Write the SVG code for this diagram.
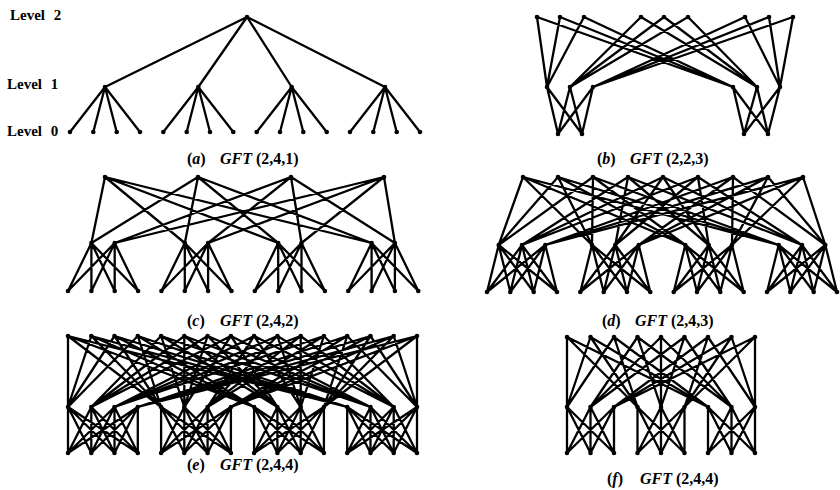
<svg xmlns="http://www.w3.org/2000/svg" width="840" height="490" viewBox="0 0 840 490">
<style>
.e{fill:none;stroke:#000;stroke-width:2.3;stroke-linecap:round;stroke-linejoin:round}
.n circle{fill:#000}
.lv{font-family:"Liberation Serif","Times New Roman",serif;font-weight:bold;font-size:15px;word-spacing:5px;fill:#000}
.cap{font-family:"Liberation Serif","Times New Roman",serif;font-weight:bold;font-size:16px;fill:#000}
.i{font-style:italic}
</style>
<rect width="840" height="490" fill="#fff"/>
<g id="connectors" class="e">
<path id="a-edges" d="M105 87 L247 17 L198.3 87 M291.7 87 L247 17 L385 87
M70 132 L105 87 L93.3 132 M116.7 132 L105 87 L140 132
M163.3 132 L198.3 87 L186.7 132 M210 132 L198.3 87 L233.3 132
M256.7 132 L291.7 87 L280 132 M303.3 132 L291.7 87 L326.7 132
M350 132 L385 87 L373.3 132 M396.7 132 L385 87 L420 132"/>
<path id="b-edges" d="M547 87 L558 134 L570 87 M593 87 L558 134
M547 87 L582 134 L570 87 M593 87 L582 134
M733 87 L744 134 L757 87 M780 87 L744 134
M733 87 L768 134 L757 87 M780 87 L768 134
M537 17 L547 87 L560 17 M584 17 L547 87
M537 17 L733 87 L560 17 M584 17 L733 87
M641 17 L570 87 L664 17 M688 17 L570 87
M641 17 L757 87 L664 17 M688 17 L757 87
M745 17 L593 87 L769 17 M793 17 L593 87
M745 17 L780 87 L769 17 M793 17 L780 87"/>
<path id="c-edges" d="M68 291 L91.4 243 L91.4 291 M114.7 291 L91.4 243 L138.1 291
M68 291 L114.7 243 L91.4 291 M114.7 291 L114.7 243 L138.1 291
M161.4 291 L184.8 243 L184.8 291 M208.1 291 L184.8 243 L231.5 291
M161.4 291 L208.1 243 L184.8 291 M208.1 291 L208.1 243 L231.5 291
M254.8 291 L278.2 243 L278.2 291 M301.5 291 L278.2 243 L324.9 291
M254.8 291 L301.5 243 L278.2 291 M301.5 291 L301.5 243 L324.9 291
M348.2 291 L371.6 243 L371.6 291 M394.9 291 L371.6 243 L418.3 291
M348.2 291 L394.9 243 L371.6 291 M394.9 291 L394.9 243 L418.3 291
M105 177 L91.4 243 L198 177
M105 177 L184.8 243 L198 177
M105 177 L278.2 243 L198 177
M105 177 L371.6 243 L198 177
M291 177 L114.7 243 L384 177
M291 177 L208.1 243 L384 177
M291 177 L301.5 243 L384 177
M291 177 L394.9 243 L384 177"/>
<path id="d-edges" d="M487 292 L498.7 245 L510.3 292 M533.7 292 L498.7 245 L557 292
M487 292 L522 245 L510.3 292 M533.7 292 L522 245 L557 292
M487 292 L545.3 245 L510.3 292 M533.7 292 L545.3 245 L557 292
M580.3 292 L592 245 L603.7 292 M627 292 L592 245 L650.3 292
M580.3 292 L615.3 245 L603.7 292 M627 292 L615.3 245 L650.3 292
M580.3 292 L638.7 245 L603.7 292 M627 292 L638.7 245 L650.3 292
M673.7 292 L685.3 245 L697 292 M720.3 292 L685.3 245 L743.7 292
M673.7 292 L708.7 245 L697 292 M720.3 292 L708.7 245 L743.7 292
M673.7 292 L732 245 L697 292 M720.3 292 L732 245 L743.7 292
M767 292 L778.7 245 L790.3 292 M813.7 292 L778.7 245 L837 292
M767 292 L802 245 L790.3 292 M813.7 292 L802 245 L837 292
M767 292 L825.3 245 L790.3 292 M813.7 292 L825.3 245 L837 292
M523 177 L498.7 245 L558 177 M593 177 L498.7 245
M523 177 L592 245 L558 177 M593 177 L592 245
M523 177 L685.3 245 L558 177 M593 177 L685.3 245
M523 177 L778.7 245 L558 177 M593 177 L778.7 245
M628 177 L522 245 L663 177 M698 177 L522 245
M628 177 L615.3 245 L663 177 M698 177 L615.3 245
M628 177 L708.7 245 L663 177 M698 177 L708.7 245
M628 177 L802 245 L663 177 M698 177 L802 245
M733 177 L545.3 245 L768 177 M803 177 L545.3 245
M733 177 L638.7 245 L768 177 M803 177 L638.7 245
M733 177 L732 245 L768 177 M803 177 L732 245
M733 177 L825.3 245 L768 177 M803 177 L825.3 245"/>
<path id="e-edges" d="M68 453 L68 407 L91.3 453 M114.5 453 L68 407 L137.8 453
M68 453 L91.3 407 L91.3 453 M114.5 453 L91.3 407 L137.8 453
M68 453 L114.5 407 L91.3 453 M114.5 453 L114.5 407 L137.8 453
M68 453 L137.8 407 L91.3 453 M114.5 453 L137.8 407 L137.8 453
M161.1 453 L161.1 407 L184.3 453 M207.6 453 L161.1 407 L230.9 453
M161.1 453 L184.3 407 L184.3 453 M207.6 453 L184.3 407 L230.9 453
M161.1 453 L207.6 407 L184.3 453 M207.6 453 L207.6 407 L230.9 453
M161.1 453 L230.9 407 L184.3 453 M207.6 453 L230.9 407 L230.9 453
M254.1 453 L254.1 407 L277.4 453 M300.7 453 L254.1 407 L323.9 453
M254.1 453 L277.4 407 L277.4 453 M300.7 453 L277.4 407 L323.9 453
M254.1 453 L300.7 407 L277.4 453 M300.7 453 L300.7 407 L323.9 453
M254.1 453 L323.9 407 L277.4 453 M300.7 453 L323.9 407 L323.9 453
M347.2 453 L347.2 407 L370.5 453 M393.7 453 L347.2 407 L417 453
M347.2 453 L370.5 407 L370.5 453 M393.7 453 L370.5 407 L417 453
M347.2 453 L393.7 407 L370.5 453 M393.7 453 L393.7 407 L417 453
M347.2 453 L417 407 L370.5 453 M393.7 453 L417 407 L417 453
M68 336 L68 407 L91.3 336 M114.5 336 L68 407 L137.8 336
M68 336 L161.1 407 L91.3 336 M114.5 336 L161.1 407 L137.8 336
M68 336 L254.1 407 L91.3 336 M114.5 336 L254.1 407 L137.8 336
M68 336 L347.2 407 L91.3 336 M114.5 336 L347.2 407 L137.8 336
M161.1 336 L91.3 407 L184.3 336 M207.6 336 L91.3 407 L230.9 336
M161.1 336 L184.3 407 L184.3 336 M207.6 336 L184.3 407 L230.9 336
M161.1 336 L277.4 407 L184.3 336 M207.6 336 L277.4 407 L230.9 336
M161.1 336 L370.5 407 L184.3 336 M207.6 336 L370.5 407 L230.9 336
M254.1 336 L114.5 407 L277.4 336 M300.7 336 L114.5 407 L323.9 336
M254.1 336 L207.6 407 L277.4 336 M300.7 336 L207.6 407 L323.9 336
M254.1 336 L300.7 407 L277.4 336 M300.7 336 L300.7 407 L323.9 336
M254.1 336 L393.7 407 L277.4 336 M300.7 336 L393.7 407 L323.9 336
M347.2 336 L137.8 407 L370.5 336 M393.7 336 L137.8 407 L417 336
M347.2 336 L230.9 407 L370.5 336 M393.7 336 L230.9 407 L417 336
M347.2 336 L323.9 407 L370.5 336 M393.7 336 L323.9 407 L417 336
M347.2 336 L417 407 L370.5 336 M393.7 336 L417 407 L417 336"/>
<path id="f-edges" d="M567 453 L567 407 L590.5 453 M614 453 L567 407
M567 453 L590.5 407 L590.5 453 M614 453 L590.5 407
M567 453 L614 407 L590.5 453 M614 453 L614 407
M637.5 453 L637.5 407 L661 453 M684.5 453 L637.5 407
M637.5 453 L661 407 L661 453 M684.5 453 L661 407
M637.5 453 L684.5 407 L661 453 M684.5 453 L684.5 407
M708 453 L708 407 L731.5 453 M755 453 L708 407
M708 453 L731.5 407 L731.5 453 M755 453 L731.5 407
M708 453 L755 407 L731.5 453 M755 453 L755 407
M567 337 L567 407 L590.5 337 M614 337 L567 407
M567 337 L637.5 407 L590.5 337 M614 337 L637.5 407
M567 337 L708 407 L590.5 337 M614 337 L708 407
M637.5 337 L590.5 407 L661 337 M684.5 337 L590.5 407
M637.5 337 L661 407 L661 337 M684.5 337 L661 407
M637.5 337 L731.5 407 L661 337 M684.5 337 L731.5 407
M708 337 L614 407 L731.5 337 M755 337 L614 407
M708 337 L684.5 407 L731.5 337 M755 337 L684.5 407
M708 337 L755 407 L731.5 337 M755 337 L755 407"/>
</g>
<g id="nodes" class="n">
<g id="a2-0"><circle cx="247" cy="17" r="2.3"/></g>
<g id="a1-0"><circle cx="105" cy="87" r="2.3"/></g>
<g id="a1-1"><circle cx="198.3" cy="87" r="2.3"/></g>
<g id="a1-2"><circle cx="291.7" cy="87" r="2.3"/></g>
<g id="a1-3"><circle cx="385" cy="87" r="2.3"/></g>
<g id="a0-0"><circle cx="70" cy="132" r="2.3"/></g>
<g id="a0-1"><circle cx="93.3" cy="132" r="2.3"/></g>
<g id="a0-2"><circle cx="116.7" cy="132" r="2.3"/></g>
<g id="a0-3"><circle cx="140" cy="132" r="2.3"/></g>
<g id="a0-4"><circle cx="163.3" cy="132" r="2.3"/></g>
<g id="a0-5"><circle cx="186.7" cy="132" r="2.3"/></g>
<g id="a0-6"><circle cx="210" cy="132" r="2.3"/></g>
<g id="a0-7"><circle cx="233.3" cy="132" r="2.3"/></g>
<g id="a0-8"><circle cx="256.7" cy="132" r="2.3"/></g>
<g id="a0-9"><circle cx="280" cy="132" r="2.3"/></g>
<g id="a0-10"><circle cx="303.3" cy="132" r="2.3"/></g>
<g id="a0-11"><circle cx="326.7" cy="132" r="2.3"/></g>
<g id="a0-12"><circle cx="350" cy="132" r="2.3"/></g>
<g id="a0-13"><circle cx="373.3" cy="132" r="2.3"/></g>
<g id="a0-14"><circle cx="396.7" cy="132" r="2.3"/></g>
<g id="a0-15"><circle cx="420" cy="132" r="2.3"/></g>

<g id="b2-0"><circle cx="537" cy="17" r="2.3"/></g>
<g id="b2-1"><circle cx="560" cy="17" r="2.3"/></g>
<g id="b2-2"><circle cx="584" cy="17" r="2.3"/></g>
<g id="b2-3"><circle cx="641" cy="17" r="2.3"/></g>
<g id="b2-4"><circle cx="664" cy="17" r="2.3"/></g>
<g id="b2-5"><circle cx="688" cy="17" r="2.3"/></g>
<g id="b2-6"><circle cx="745" cy="17" r="2.3"/></g>
<g id="b2-7"><circle cx="769" cy="17" r="2.3"/></g>
<g id="b2-8"><circle cx="793" cy="17" r="2.3"/></g>
<g id="b1-0"><circle cx="547" cy="87" r="2.3"/></g>
<g id="b1-1"><circle cx="570" cy="87" r="2.3"/></g>
<g id="b1-2"><circle cx="593" cy="87" r="2.3"/></g>
<g id="b1-3"><circle cx="733" cy="87" r="2.3"/></g>
<g id="b1-4"><circle cx="757" cy="87" r="2.3"/></g>
<g id="b1-5"><circle cx="780" cy="87" r="2.3"/></g>
<g id="b0-0"><circle cx="558" cy="134" r="2.3"/></g>
<g id="b0-1"><circle cx="582" cy="134" r="2.3"/></g>
<g id="b0-2"><circle cx="744" cy="134" r="2.3"/></g>
<g id="b0-3"><circle cx="768" cy="134" r="2.3"/></g>

<g id="c2-0"><circle cx="105" cy="177" r="2.3"/></g>
<g id="c2-1"><circle cx="198" cy="177" r="2.3"/></g>
<g id="c2-2"><circle cx="291" cy="177" r="2.3"/></g>
<g id="c2-3"><circle cx="384" cy="177" r="2.3"/></g>
<g id="c1-0"><circle cx="91.4" cy="243" r="2.3"/></g>
<g id="c1-1"><circle cx="114.7" cy="243" r="2.3"/></g>
<g id="c1-2"><circle cx="184.8" cy="243" r="2.3"/></g>
<g id="c1-3"><circle cx="208.1" cy="243" r="2.3"/></g>
<g id="c1-4"><circle cx="278.2" cy="243" r="2.3"/></g>
<g id="c1-5"><circle cx="301.5" cy="243" r="2.3"/></g>
<g id="c1-6"><circle cx="371.6" cy="243" r="2.3"/></g>
<g id="c1-7"><circle cx="394.9" cy="243" r="2.3"/></g>
<g id="c0-0"><circle cx="68" cy="291" r="2.3"/></g>
<g id="c0-1"><circle cx="91.4" cy="291" r="2.3"/></g>
<g id="c0-2"><circle cx="114.7" cy="291" r="2.3"/></g>
<g id="c0-3"><circle cx="138.1" cy="291" r="2.3"/></g>
<g id="c0-4"><circle cx="161.4" cy="291" r="2.3"/></g>
<g id="c0-5"><circle cx="184.8" cy="291" r="2.3"/></g>
<g id="c0-6"><circle cx="208.1" cy="291" r="2.3"/></g>
<g id="c0-7"><circle cx="231.5" cy="291" r="2.3"/></g>
<g id="c0-8"><circle cx="254.8" cy="291" r="2.3"/></g>
<g id="c0-9"><circle cx="278.2" cy="291" r="2.3"/></g>
<g id="c0-10"><circle cx="301.5" cy="291" r="2.3"/></g>
<g id="c0-11"><circle cx="324.9" cy="291" r="2.3"/></g>
<g id="c0-12"><circle cx="348.2" cy="291" r="2.3"/></g>
<g id="c0-13"><circle cx="371.6" cy="291" r="2.3"/></g>
<g id="c0-14"><circle cx="394.9" cy="291" r="2.3"/></g>
<g id="c0-15"><circle cx="418.3" cy="291" r="2.3"/></g>

<g id="d2-0"><circle cx="523" cy="177" r="2.3"/></g>
<g id="d2-1"><circle cx="558" cy="177" r="2.3"/></g>
<g id="d2-2"><circle cx="593" cy="177" r="2.3"/></g>
<g id="d2-3"><circle cx="628" cy="177" r="2.3"/></g>
<g id="d2-4"><circle cx="663" cy="177" r="2.3"/></g>
<g id="d2-5"><circle cx="698" cy="177" r="2.3"/></g>
<g id="d2-6"><circle cx="733" cy="177" r="2.3"/></g>
<g id="d2-7"><circle cx="768" cy="177" r="2.3"/></g>
<g id="d2-8"><circle cx="803" cy="177" r="2.3"/></g>
<g id="d1-0"><circle cx="498.7" cy="245" r="2.3"/></g>
<g id="d1-1"><circle cx="522" cy="245" r="2.3"/></g>
<g id="d1-2"><circle cx="545.3" cy="245" r="2.3"/></g>
<g id="d1-3"><circle cx="592" cy="245" r="2.3"/></g>
<g id="d1-4"><circle cx="615.3" cy="245" r="2.3"/></g>
<g id="d1-5"><circle cx="638.7" cy="245" r="2.3"/></g>
<g id="d1-6"><circle cx="685.3" cy="245" r="2.3"/></g>
<g id="d1-7"><circle cx="708.7" cy="245" r="2.3"/></g>
<g id="d1-8"><circle cx="732" cy="245" r="2.3"/></g>
<g id="d1-9"><circle cx="778.7" cy="245" r="2.3"/></g>
<g id="d1-10"><circle cx="802" cy="245" r="2.3"/></g>
<g id="d1-11"><circle cx="825.3" cy="245" r="2.3"/></g>
<g id="d0-0"><circle cx="487" cy="292" r="2.3"/></g>
<g id="d0-1"><circle cx="510.3" cy="292" r="2.3"/></g>
<g id="d0-2"><circle cx="533.7" cy="292" r="2.3"/></g>
<g id="d0-3"><circle cx="557" cy="292" r="2.3"/></g>
<g id="d0-4"><circle cx="580.3" cy="292" r="2.3"/></g>
<g id="d0-5"><circle cx="603.7" cy="292" r="2.3"/></g>
<g id="d0-6"><circle cx="627" cy="292" r="2.3"/></g>
<g id="d0-7"><circle cx="650.3" cy="292" r="2.3"/></g>
<g id="d0-8"><circle cx="673.7" cy="292" r="2.3"/></g>
<g id="d0-9"><circle cx="697" cy="292" r="2.3"/></g>
<g id="d0-10"><circle cx="720.3" cy="292" r="2.3"/></g>
<g id="d0-11"><circle cx="743.7" cy="292" r="2.3"/></g>
<g id="d0-12"><circle cx="767" cy="292" r="2.3"/></g>
<g id="d0-13"><circle cx="790.3" cy="292" r="2.3"/></g>
<g id="d0-14"><circle cx="813.7" cy="292" r="2.3"/></g>
<g id="d0-15"><circle cx="837" cy="292" r="2.3"/></g>

<g id="e2-0"><circle cx="68" cy="336" r="2.3"/></g>
<g id="e2-1"><circle cx="91.3" cy="336" r="2.3"/></g>
<g id="e2-2"><circle cx="114.5" cy="336" r="2.3"/></g>
<g id="e2-3"><circle cx="137.8" cy="336" r="2.3"/></g>
<g id="e2-4"><circle cx="161.1" cy="336" r="2.3"/></g>
<g id="e2-5"><circle cx="184.3" cy="336" r="2.3"/></g>
<g id="e2-6"><circle cx="207.6" cy="336" r="2.3"/></g>
<g id="e2-7"><circle cx="230.9" cy="336" r="2.3"/></g>
<g id="e2-8"><circle cx="254.1" cy="336" r="2.3"/></g>
<g id="e2-9"><circle cx="277.4" cy="336" r="2.3"/></g>
<g id="e2-10"><circle cx="300.7" cy="336" r="2.3"/></g>
<g id="e2-11"><circle cx="323.9" cy="336" r="2.3"/></g>
<g id="e2-12"><circle cx="347.2" cy="336" r="2.3"/></g>
<g id="e2-13"><circle cx="370.5" cy="336" r="2.3"/></g>
<g id="e2-14"><circle cx="393.7" cy="336" r="2.3"/></g>
<g id="e2-15"><circle cx="417" cy="336" r="2.3"/></g>
<g id="e1-0"><circle cx="68" cy="407" r="2.3"/></g>
<g id="e1-1"><circle cx="91.3" cy="407" r="2.3"/></g>
<g id="e1-2"><circle cx="114.5" cy="407" r="2.3"/></g>
<g id="e1-3"><circle cx="137.8" cy="407" r="2.3"/></g>
<g id="e1-4"><circle cx="161.1" cy="407" r="2.3"/></g>
<g id="e1-5"><circle cx="184.3" cy="407" r="2.3"/></g>
<g id="e1-6"><circle cx="207.6" cy="407" r="2.3"/></g>
<g id="e1-7"><circle cx="230.9" cy="407" r="2.3"/></g>
<g id="e1-8"><circle cx="254.1" cy="407" r="2.3"/></g>
<g id="e1-9"><circle cx="277.4" cy="407" r="2.3"/></g>
<g id="e1-10"><circle cx="300.7" cy="407" r="2.3"/></g>
<g id="e1-11"><circle cx="323.9" cy="407" r="2.3"/></g>
<g id="e1-12"><circle cx="347.2" cy="407" r="2.3"/></g>
<g id="e1-13"><circle cx="370.5" cy="407" r="2.3"/></g>
<g id="e1-14"><circle cx="393.7" cy="407" r="2.3"/></g>
<g id="e1-15"><circle cx="417" cy="407" r="2.3"/></g>
<g id="e0-0"><circle cx="68" cy="453" r="2.3"/></g>
<g id="e0-1"><circle cx="91.3" cy="453" r="2.3"/></g>
<g id="e0-2"><circle cx="114.5" cy="453" r="2.3"/></g>
<g id="e0-3"><circle cx="137.8" cy="453" r="2.3"/></g>
<g id="e0-4"><circle cx="161.1" cy="453" r="2.3"/></g>
<g id="e0-5"><circle cx="184.3" cy="453" r="2.3"/></g>
<g id="e0-6"><circle cx="207.6" cy="453" r="2.3"/></g>
<g id="e0-7"><circle cx="230.9" cy="453" r="2.3"/></g>
<g id="e0-8"><circle cx="254.1" cy="453" r="2.3"/></g>
<g id="e0-9"><circle cx="277.4" cy="453" r="2.3"/></g>
<g id="e0-10"><circle cx="300.7" cy="453" r="2.3"/></g>
<g id="e0-11"><circle cx="323.9" cy="453" r="2.3"/></g>
<g id="e0-12"><circle cx="347.2" cy="453" r="2.3"/></g>
<g id="e0-13"><circle cx="370.5" cy="453" r="2.3"/></g>
<g id="e0-14"><circle cx="393.7" cy="453" r="2.3"/></g>
<g id="e0-15"><circle cx="417" cy="453" r="2.3"/></g>

<g id="f2-0"><circle cx="567" cy="337" r="2.3"/></g>
<g id="f2-1"><circle cx="590.5" cy="337" r="2.3"/></g>
<g id="f2-2"><circle cx="614" cy="337" r="2.3"/></g>
<g id="f2-3"><circle cx="637.5" cy="337" r="2.3"/></g>
<g id="f2-4"><circle cx="661" cy="337" r="2.3"/></g>
<g id="f2-5"><circle cx="684.5" cy="337" r="2.3"/></g>
<g id="f2-6"><circle cx="708" cy="337" r="2.3"/></g>
<g id="f2-7"><circle cx="731.5" cy="337" r="2.3"/></g>
<g id="f2-8"><circle cx="755" cy="337" r="2.3"/></g>
<g id="f1-0"><circle cx="567" cy="407" r="2.3"/></g>
<g id="f1-1"><circle cx="590.5" cy="407" r="2.3"/></g>
<g id="f1-2"><circle cx="614" cy="407" r="2.3"/></g>
<g id="f1-3"><circle cx="637.5" cy="407" r="2.3"/></g>
<g id="f1-4"><circle cx="661" cy="407" r="2.3"/></g>
<g id="f1-5"><circle cx="684.5" cy="407" r="2.3"/></g>
<g id="f1-6"><circle cx="708" cy="407" r="2.3"/></g>
<g id="f1-7"><circle cx="731.5" cy="407" r="2.3"/></g>
<g id="f1-8"><circle cx="755" cy="407" r="2.3"/></g>
<g id="f0-0"><circle cx="567" cy="453" r="2.3"/></g>
<g id="f0-1"><circle cx="590.5" cy="453" r="2.3"/></g>
<g id="f0-2"><circle cx="614" cy="453" r="2.3"/></g>
<g id="f0-3"><circle cx="637.5" cy="453" r="2.3"/></g>
<g id="f0-4"><circle cx="661" cy="453" r="2.3"/></g>
<g id="f0-5"><circle cx="684.5" cy="453" r="2.3"/></g>
<g id="f0-6"><circle cx="708" cy="453" r="2.3"/></g>
<g id="f0-7"><circle cx="731.5" cy="453" r="2.3"/></g>
<g id="f0-8"><circle cx="755" cy="453" r="2.3"/></g>
</g>
<g id="labels">
<text class="lv" x="10" y="20">Level 2</text>
<text class="lv" x="7" y="89">Level 1</text>
<text class="lv" x="7" y="136">Level 0</text>
<text class="cap" x="187" y="164">(<tspan class="i">a</tspan>)<tspan x="220" class="i">GFT</tspan><tspan x="256">(2,4,1)</tspan></text>
<text class="cap" x="597" y="164">(<tspan class="i">b</tspan>)<tspan x="630" class="i">GFT</tspan><tspan x="666">(2,2,3)</tspan></text>
<text class="cap" x="187" y="326">(<tspan class="i">c</tspan>)<tspan x="220" class="i">GFT</tspan><tspan x="256">(2,4,2)</tspan></text>
<text class="cap" x="602" y="326">(<tspan class="i">d</tspan>)<tspan x="635" class="i">GFT</tspan><tspan x="671">(2,4,3)</tspan></text>
<text class="cap" x="187" y="470">(<tspan class="i">e</tspan>)<tspan x="220" class="i">GFT</tspan><tspan x="256">(2,4,4)</tspan></text>
<text class="cap" x="607" y="484">(<tspan class="i">f</tspan>)<tspan x="640" class="i">GFT</tspan><tspan x="676">(2,4,4)</tspan></text>
</g>
</svg>
